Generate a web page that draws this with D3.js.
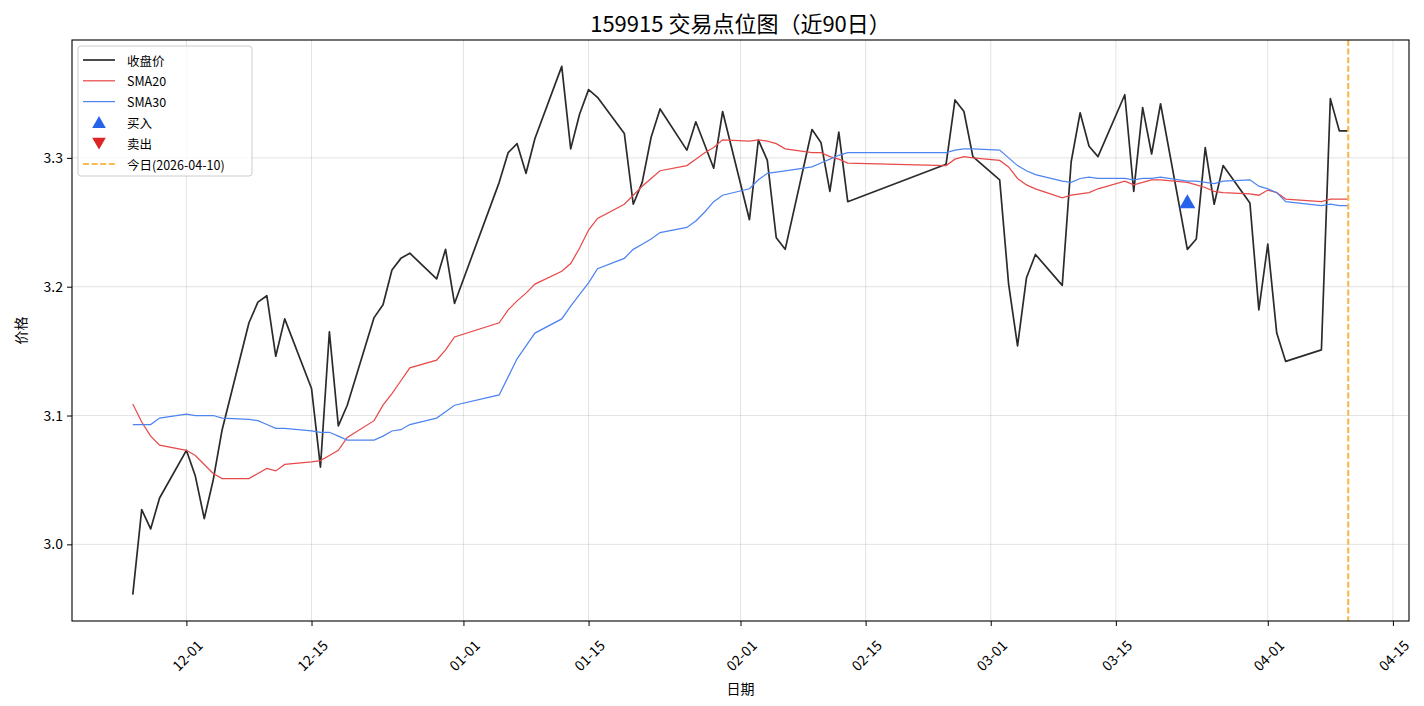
<!DOCTYPE html>
<html>
<head>
<meta charset="utf-8">
<script src="https://cdn.jsdelivr.net/npm/d3@7"></script>
<style>
  body { margin: 0; background: #fff; }
  svg { display: block; font-family: "Noto Sans CJK SC", "DejaVu Sans", sans-serif; }
</style>
</head>
<body>
<svg width="1424" height="706"></svg>
<script>
// trading days shown in the chart
const dates = [
  "2025-11-25","2025-11-26","2025-11-27","2025-11-28",
  "2025-12-01","2025-12-02","2025-12-03","2025-12-04","2025-12-05",
  "2025-12-08","2025-12-09","2025-12-10","2025-12-11","2025-12-12",
  "2025-12-15","2025-12-16","2025-12-17","2025-12-18","2025-12-19",
  "2025-12-22","2025-12-23","2025-12-24","2025-12-25","2025-12-26",
  "2025-12-29","2025-12-30","2025-12-31",
  "2026-01-05","2026-01-06","2026-01-07","2026-01-08","2026-01-09",
  "2026-01-12","2026-01-13","2026-01-14","2026-01-15","2026-01-16",
  "2026-01-19","2026-01-20","2026-01-21","2026-01-22","2026-01-23",
  "2026-01-26","2026-01-27","2026-01-28","2026-01-29","2026-01-30",
  "2026-02-02","2026-02-03","2026-02-04","2026-02-05","2026-02-06",
  "2026-02-09","2026-02-10","2026-02-11","2026-02-12","2026-02-13",
  "2026-02-24","2026-02-25","2026-02-26","2026-02-27",
  "2026-03-02","2026-03-03","2026-03-04","2026-03-05","2026-03-06",
  "2026-03-09","2026-03-10","2026-03-11","2026-03-12","2026-03-13",
  "2026-03-16","2026-03-17","2026-03-18","2026-03-19","2026-03-20",
  "2026-03-23","2026-03-24","2026-03-25","2026-03-26","2026-03-27",
  "2026-03-30","2026-03-31","2026-04-01","2026-04-02","2026-04-03",
  "2026-04-07","2026-04-08","2026-04-09","2026-04-10"
];

const closePrice = [
  2.961,3.027,3.012,3.036,
  3.073,3.053,3.020,3.050,3.089,
  3.172,3.188,3.193,3.146,3.175,
  3.121,3.060,3.165,3.092,3.108,
  3.176,3.186,3.213,3.222,3.226,
  3.206,3.229,3.187,
  3.281,3.304,3.311,3.288,3.315,
  3.371,3.307,3.334,3.353,3.347,
  3.319,3.264,3.281,3.316,3.338,
  3.306,3.328,3.310,3.292,3.336,
  3.252,3.314,3.298,3.238,3.229,
  3.322,3.312,3.274,3.320,3.266,
  3.295,3.345,3.336,3.301,
  3.283,3.202,3.154,3.207,3.225,
  3.201,3.297,3.335,3.309,3.301,
  3.349,3.274,3.339,3.303,3.342,
  3.229,3.237,3.308,3.264,3.294,
  3.265,3.182,3.233,3.164,3.142,
  3.151,3.346,3.321,3.321
];

const sma20 = [
  3.109,3.095,3.084,3.077,
  3.073,3.069,3.062,3.055,3.051,
  3.051,3.055,3.059,3.057,3.062,
  3.064,3.065,3.069,3.073,3.083,
  3.096,3.108,3.117,3.127,3.137,
  3.143,3.151,3.161,
  3.172,3.182,3.189,3.195,3.202,
  3.212,3.218,3.230,3.244,3.253,
  3.264,3.271,3.278,3.284,3.290,
  3.294,3.299,3.304,3.308,3.314,
  3.313,3.314,3.313,3.311,3.307,
  3.304,3.304,3.301,3.299,3.296,
  3.294,3.299,3.301,3.300,
  3.298,3.293,3.284,3.279,3.276,
  3.269,3.271,3.272,3.273,3.276,
  3.282,3.279,3.281,3.283,3.283,
  3.281,3.279,3.277,3.274,3.273,
  3.272,3.271,3.275,3.273,3.268,
  3.266,3.268,3.268,3.268
];

const sma30 = [
  3.093,3.093,3.093,3.098,
  3.101,3.100,3.100,3.100,3.098,
  3.097,3.096,3.093,3.090,3.090,
  3.088,3.087,3.087,3.084,3.081,
  3.081,3.084,3.088,3.089,3.093,
  3.098,3.103,3.108,
  3.116,3.130,3.144,3.154,3.164,
  3.175,3.185,3.194,3.203,3.214,
  3.222,3.229,3.233,3.237,3.242,
  3.246,3.251,3.258,3.266,3.271,
  3.276,3.283,3.288,3.289,3.290,
  3.293,3.296,3.299,3.302,3.304,
  3.304,3.306,3.307,3.307,
  3.306,3.300,3.294,3.290,3.287,
  3.282,3.281,3.284,3.285,3.284,
  3.284,3.283,3.284,3.284,3.285,
  3.282,3.282,3.281,3.280,3.282,
  3.283,3.278,3.276,3.273,3.266,
  3.263,3.264,3.263,3.263
];

const buyDates = ["2026-03-23"];
const buyPrices = [3.266];
const sellDates = [];
const sellPrices = [];
const todayDate = "2026-04-10";

const xTickDates = ["2025-12-01","2025-12-15","2026-01-01","2026-01-15","2026-02-01",
                    "2026-02-15","2026-03-01","2026-03-15","2026-04-01","2026-04-15"];
const yTicks = [3.0, 3.1, 3.2, 3.3];

const parse = d3.utcParse("%Y-%m-%d");
const fmt = d3.utcFormat("%m-%d");

const svg = d3.select("svg");
const margin = { top: 40, right: 15, bottom: 85, left: 72 };
const W = 1424, H = 706;
const width = W - margin.left - margin.right;
const height = H - margin.top - margin.bottom;

const g = svg.append("g").attr("transform", `translate(${margin.left},${margin.top})`);

const rows = dates.map((d, i) => ({ date: parse(d), close: closePrice[i], s20: sma20[i], s30: sma30[i] }));

// matplotlib-style 5% margins
const xExt = d3.extent(rows, d => d.date.getTime());
const xPad = (xExt[1] - xExt[0]) * 0.05;
const x = d3.scaleUtc().domain([new Date(xExt[0] - xPad), new Date(xExt[1] + xPad)]).range([0, width]);

const yExt = d3.extent(closePrice);
const yPad = (yExt[1] - yExt[0]) * 0.05;
const y = d3.scaleLinear().domain([yExt[0] - yPad, yExt[1] + yPad]).range([height, 0]);

// grid
g.append("g").selectAll("line").data(xTickDates).join("line")
  .attr("x1", d => x(parse(d))).attr("x2", d => x(parse(d)))
  .attr("y1", 0).attr("y2", height)
  .attr("stroke", "#b0b0b0").attr("stroke-opacity", 0.35).attr("stroke-width", 1);
g.append("g").selectAll("line").data(yTicks).join("line")
  .attr("x1", 0).attr("x2", width)
  .attr("y1", d => y(d)).attr("y2", d => y(d))
  .attr("stroke", "#b0b0b0").attr("stroke-opacity", 0.35).attr("stroke-width", 1);

// lines
const line = key => d3.line().x(d => x(d.date)).y(d => y(d[key]));
g.append("path").datum(rows).attr("d", line("close"))
  .attr("fill", "none").attr("stroke", "#2b2b2b").attr("stroke-width", 1.7).attr("stroke-linejoin", "round");
g.append("path").datum(rows).attr("d", line("s20"))
  .attr("fill", "none").attr("stroke", "#e84a4a").attr("stroke-width", 1.25);
g.append("path").datum(rows).attr("d", line("s30"))
  .attr("fill", "none").attr("stroke", "#4e84f0").attr("stroke-width", 1.25);

// markers
const triUp = "M0,-7.5L8,6.5L-8,6.5Z";
const triDown = "M0,7.5L8,-6.5L-8,-6.5Z";
g.selectAll(".buy").data(buyDates).join("path").attr("class", "buy")
  .attr("d", triUp)
  .attr("transform", (d, i) => `translate(${x(parse(d))},${y(buyPrices[i])})`)
  .attr("fill", "#2563eb");
g.selectAll(".sell").data(sellDates).join("path").attr("class", "sell")
  .attr("d", triDown)
  .attr("transform", (d, i) => `translate(${x(parse(d))},${y(sellPrices[i])})`)
  .attr("fill", "#dc2626");

// today line
g.append("line")
  .attr("x1", x(parse(todayDate))).attr("x2", x(parse(todayDate)))
  .attr("y1", 0).attr("y2", height)
  .attr("stroke", "#f8bb54").attr("stroke-width", 2.2).attr("stroke-dasharray", "6,2.6");

// frame
g.append("rect").attr("width", width).attr("height", height)
  .attr("fill", "none").attr("stroke", "#000").attr("stroke-width", 1.1);

// x axis
const xAxis = g.append("g").attr("transform", `translate(0,${height})`)
  .call(d3.axisBottom(x).tickValues(xTickDates.map(parse)).tickFormat(fmt).tickSizeOuter(0).tickSize(5));
xAxis.select(".domain").remove();
xAxis.selectAll("line").attr("stroke", "#000");
xAxis.selectAll("text")
  .attr("y", 0).attr("dy", null)
  .attr("transform", "translate(0,34) rotate(-45)")
  .attr("dominant-baseline", "central")
  .style("text-anchor", "middle")
  .style("font-size", "14px")
  .style("font-family", "'Noto Sans CJK SC', sans-serif")
  .attr("fill", "#000");

// y axis
const yAxis = g.append("g")
  .call(d3.axisLeft(y).tickValues(yTicks).tickFormat(d3.format(".1f")).tickSizeOuter(0).tickSize(5));
yAxis.select(".domain").remove();
yAxis.selectAll("line").attr("stroke", "#000");
yAxis.selectAll("text")
  .attr("x", -9)
  .style("font-size", "14px")
  .style("font-family", "'Noto Sans CJK SC', sans-serif")
  .attr("fill", "#000");

// labels
svg.append("text").attr("x", margin.left + width / 2).attr("y", 22)
  .attr("text-anchor", "middle").attr("dominant-baseline", "central")
  .style("font-size", "22px").text("159915 交易点位图（近90日）");
svg.append("text").attr("x", margin.left + width / 2).attr("y", 688)
  .attr("text-anchor", "middle").attr("dominant-baseline", "central")
  .style("font-size", "14px").text("日期");
svg.append("text").attr("transform", `translate(20,${margin.top + height / 2}) rotate(-90)`)
  .attr("text-anchor", "middle").attr("dominant-baseline", "central")
  .style("font-size", "14px").text("价格");

// legend
const legendItems = [
  { label: "收盘价", type: "line", color: "#2b2b2b", w: 1.7 },
  { label: "SMA20", type: "line", color: "#e84a4a", w: 1.25 },
  { label: "SMA30", type: "line", color: "#4e84f0", w: 1.25 },
  { label: "买入", type: "up", color: "#2563eb" },
  { label: "卖出", type: "down", color: "#dc2626" },
  { label: `今日(${todayDate})`, type: "dash", color: "#f8bb54", w: 2.2 }
];
const leg = svg.append("g").attr("transform", "translate(78,46)");
leg.append("rect").attr("width", 174).attr("height", 130).attr("rx", 3)
  .attr("fill", "#fff").attr("fill-opacity", 0.8).attr("stroke", "#cccccc").attr("stroke-width", 1);
const li = leg.selectAll(".li").data(legendItems).join("g").attr("class", "li")
  .attr("transform", (d, i) => `translate(0,${14 + i * 20.8})`);
li.filter(d => d.type === "line" || d.type === "dash").append("line")
  .attr("x1", 5).attr("x2", 37).attr("y1", 0).attr("y2", 0)
  .attr("stroke", d => d.color).attr("stroke-width", d => d.w)
  .attr("stroke-dasharray", d => d.type === "dash" ? "6,2.6" : null);
li.filter(d => d.type === "up").append("path").attr("d", triUp)
  .attr("transform", "translate(21,0) scale(0.85)").attr("fill", d => d.color);
li.filter(d => d.type === "down").append("path").attr("d", triDown)
  .attr("transform", "translate(21,0) scale(0.85)").attr("fill", d => d.color);
li.append("text").attr("x", 49).attr("y", 0).attr("dominant-baseline", "central")
  .style("font-size", "12.5px").text(d => d.label);
</script>
</body>
</html>
